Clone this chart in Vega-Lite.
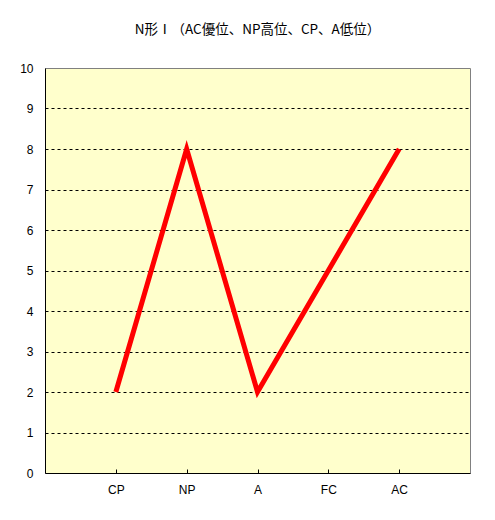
{
  "$schema": "https://vega.github.io/schema/vega-lite/v6.json",
  "autosize": "none",
  "width": 425,
  "height": 405,
  "padding": {"left": 45, "top": 68, "right": 25, "bottom": 47},
  "background": "white",
  "title": {
    "text": "N形Ⅰ（AC優位、NP高位、CP、A低位）",
    "font": "Noto Sans CJK JP",
    "fontSize": 13.5,
    "fontWeight": "normal",
    "color": "black",
    "offset": 26
  },
  "data": {
    "values": [
      {"item": "CP", "score": 2},
      {"item": "NP", "score": 8},
      {"item": "A", "score": 2},
      {"item": "FC", "score": 5},
      {"item": "AC", "score": 8}
    ]
  },
  "mark": {"type": "line", "color": "#FF0000", "strokeWidth": 5, "strokeJoin": "miter", "strokeCap": "butt"},
  "encoding": {
    "x": {
      "field": "item",
      "type": "ordinal",
      "sort": null,
      "scale": {"type": "point", "padding": 1},
      "axis": {
        "title": null,
        "labelAngle": 0,
        "grid": false,
        "domainColor": "black",
        "tickColor": "black",
        "tickSize": -4,
        "labelPadding": 15
      }
    },
    "y": {
      "field": "score",
      "type": "quantitative",
      "scale": {"domain": [0, 10], "nice": false},
      "axis": {
        "title": null,
        "values": [0, 1, 2, 3, 4, 5, 6, 7, 8, 9, 10],
        "grid": true,
        "gridColor": {"condition": {"test": "datum.value == 0 || datum.value == 10", "value": "transparent"}, "value": "black"},
        "gridDash": [3, 3],
        "gridOpacity": 1,
        "ticks": false,
        "domainColor": "black",
        "labelPadding": 12
      }
    }
  },
  "config": {
    "view": {"fill": "#FFFFCC", "stroke": "#808080", "strokeWidth": 1},
    "axis": {
      "labelFont": "Liberation Sans",
      "labelFontSize": 12,
      "labelColor": "black",
      "domainWidth": 1
    }
  }
}
